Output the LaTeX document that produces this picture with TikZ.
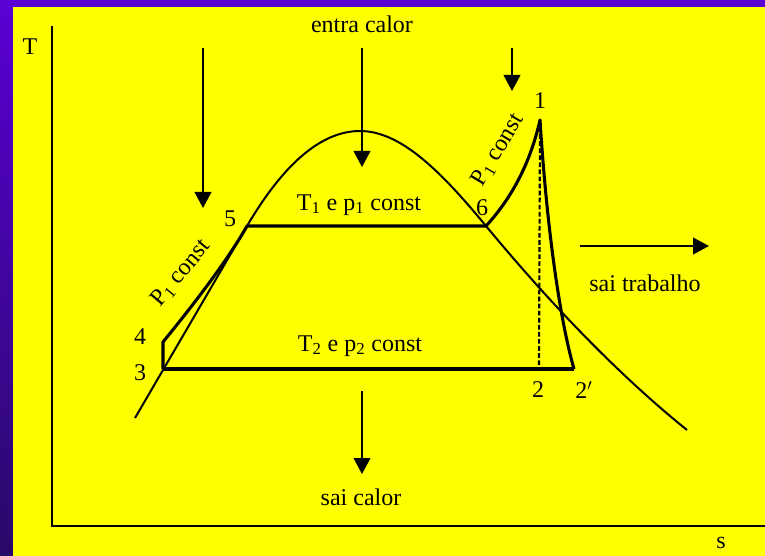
\documentclass[tikz,border=0pt]{standalone}
\usepackage{fontspec}
\setmainfont{Liberation Serif}
\usetikzlibrary{arrows.meta}
\definecolor{bgtop}{RGB}{90,0,212}
\definecolor{bgbot}{RGB}{40,10,104}
\definecolor{plate}{RGB}{255,255,0}
\tikzset{
  lbl/.style={inner sep=0pt, font=\fontsize{18}{21}\selectfont},
  axis/.style={line width=1.9pt},
  dome/.style={line width=1.5pt},
  proc/.style={line width=2.3pt, line join=round},
  heat/.style={line width=1.5pt, -{Triangle[width=12.5pt,length=12pt]}},
}
\begin{document}
\begin{tikzpicture}[x=0.75pt,y=-0.75pt]
\useasboundingbox (0,0) rectangle (765,556);
\shade[top color=bgtop, bottom color=bgbot] (0,0) rectangle (765,556);
\fill[plate] (13,7) rectangle (765,556);
% axes
\coordinate (ytop) at (52,26);
\coordinate (orig) at (52,526);
\coordinate (xend) at (765,526);
\draw[axis] (ytop) -- (orig) -- (xend);
\node[lbl] (Tlab) at (30,47) {T};
\node[lbl] (slab) at (721,543) {s};
% state points
\coordinate (p1) at (540,120);
\coordinate (p2) at (539,369);
\coordinate (p2p) at (574,369);
\coordinate (p3) at (163,369);
\coordinate (p4) at (163,342);
\coordinate (p5) at (247,226);
\coordinate (p6) at (486,226);
\coordinate (peak) at (360,131);
\coordinate (dl) at (135,418);
\coordinate (dr) at (687,430);
% saturation dome
\draw[dome] (dl) -- (p5) .. controls (287,158) and (325,131) .. (peak)
  .. controls (400,131) and (440,170) .. (p6)
  .. controls (525,273) and (600,360) .. (dr);
% cycle
\draw[proc] (p3) -- (p2p);
\draw[proc] (p3) -- (p4) .. controls (185,315) and (225,265) .. (p5) -- (p6)
  .. controls (510,200) and (530,165) .. (p1)
  .. controls (547,230) and (560,320) .. (p2p);
\draw[line width=1.6pt, dash pattern=on 3.5pt off 1.8pt] (p1) -- (p2);
% point labels
\node[lbl] (n1) at (540,101) {1};
\node[lbl] (n2) at (538,390) {2};
\node[lbl] (n2p) at (584,390) {2$'$};
\node[lbl] (n3) at (140,373) {3};
\node[lbl] (n4) at (140,337) {4};
\node[lbl] (n5) at (230,219) {5};
\node[lbl] (n6) at (482,208) {6};
% process labels
\node[lbl] (t1) at (359,205) {T\textsubscript{1} e p\textsubscript{1} const};
\node[lbl] (t2) at (360,346) {T\textsubscript{2} e p\textsubscript{2} const};
\node[lbl, rotate=50] (pl) at (181,273) {P\textsubscript{1} const};
\node[lbl, rotate=59] (pr) at (498,150) {P\textsubscript{1} const};
% heat / work
\node[lbl] (entra) at (362,24) {entra calor};
\node[lbl] (saic) at (361,497) {sai calor};
\node[lbl] (sait) at (645,283) {sai trabalho};
\coordinate (a1s) at (203,48); \coordinate (a1e) at (203,208);
\coordinate (a2s) at (362,48); \coordinate (a2e) at (362,167);
\coordinate (a3s) at (512,48); \coordinate (a3e) at (512,91);
\coordinate (a4s) at (362,391); \coordinate (a4e) at (362,474);
\coordinate (a5s) at (580,246); \coordinate (a5e) at (709,246);
\draw[heat] (a1s) -- (a1e);
\draw[heat] (a2s) -- (a2e);
\draw[heat] (a3s) -- (a3e);
\draw[heat] (a4s) -- (a4e);
\draw[heat] (a5s) -- (a5e);
\end{tikzpicture}
\end{document}
